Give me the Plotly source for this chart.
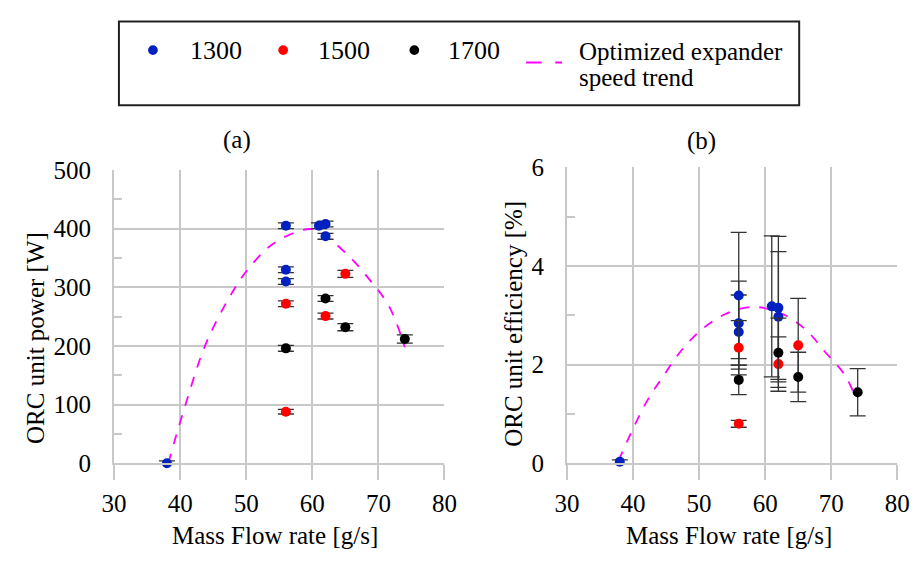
import plotly.graph_objects as go

# ---------------- data ----------------
x_1300 = [38, 56, 56, 56, 61, 62, 62]
power_1300 = [0, 405, 330, 310, 405, 408, 387]
power_err_1300 = [4, 5, 5, 5, 5, 5, 5]
eff_1300 = [0.03, 3.40, 2.84, 2.66, 3.18, 3.15, 2.97]
eff_err_1300 = [0.04, 1.28, 0.85, 0.75, 1.43, 1.45, 1.32]

x_1500 = [56, 56, 62, 65]
power_1500 = [272, 88, 251, 323]
power_err_1500 = [5, 4, 5, 6]
eff_1500 = [2.34, 0.80, 2.01, 2.39]
eff_err_1500 = [0.55, 0.07, 0.55, 0.95]

x_1700 = [56, 62, 65, 74]
power_1700 = [196, 281, 232, 212]
power_err_1700 = [5, 5, 6, 7]
eff_1700 = [1.69, 2.24, 1.75, 1.44]
eff_err_1700 = [0.30, 0.70, 0.50, 0.48]

trend_a_x = [38.2, 38.6, 40.7, 43.9, 47.5, 50.0, 53.9, 58.3, 60.5, 65.2, 68.6, 71.6, 74.0]
trend_a_y = [0, 16, 96, 204, 284, 327, 373, 397, 398, 357, 314, 268, 198]

trend_b_x = [37.8, 40.0, 42.2, 44.4, 47.1, 50.3, 53.9, 58.1, 62.7, 66.2, 69.1, 72.0, 73.8]
trend_b_y = [0.05, 0.70, 1.28, 1.73, 2.25, 2.70, 3.02, 3.17, 3.02, 2.70, 2.25, 1.80, 1.30]

series_names = ["1300", "1500", "1700"]
series_colors = ["#0020c0", "#ff0000", "#000000"]
trend_name = "Optimized expander speed trend"
x_ticks = [30, 40, 50, 60, 70, 80]

# ---------------- styling ----------------
FONT = "Liberation Serif"
GRID = "#c8c8c8"
W, H = 922, 562
MAGENTA = "#ff00ff"
ERRC = "#333333"


def px(x):
    return x / W


def py(y):
    return 1 - y / H


fig = go.Figure()

fig.add_trace(go.Scatter(x=trend_a_x, y=trend_a_y, mode="lines", line=dict(color=MAGENTA, width=1.8, dash="10px,10px", shape="spline"),
                         xaxis="x", yaxis="y", showlegend=False, name=trend_name))
fig.add_trace(go.Scatter(x=trend_b_x, y=trend_b_y, mode="lines", line=dict(color=MAGENTA, width=1.8, dash="10px,10px", shape="spline"),
                         xaxis="x2", yaxis="y2", showlegend=False, name=trend_name))

xs = [x_1300, x_1500, x_1700]
pw = [power_1300, power_1500, power_1700]
pwe = [power_err_1300, power_err_1500, power_err_1700]
ef = [eff_1300, eff_1500, eff_1700]
efe = [eff_err_1300, eff_err_1500, eff_err_1700]

for i in range(3):
    fig.add_trace(go.Scatter(
        x=xs[i], y=pw[i], mode="markers", name=series_names[i],
        marker=dict(color=series_colors[i], size=10, line=dict(width=0)),
        error_y=dict(type="data", array=pwe[i], visible=True, color=ERRC, thickness=1.3, width=8),
        xaxis="x", yaxis="y", showlegend=False, cliponaxis=False))
    fig.add_trace(go.Scatter(
        x=xs[i], y=ef[i], mode="markers", name=series_names[i],
        marker=dict(color=series_colors[i], size=10, line=dict(width=0)),
        error_y=dict(type="data", array=efe[i], visible=True, color=ERRC, thickness=1.3, width=8),
        xaxis="x2", yaxis="y2", showlegend=False, cliponaxis=False))

xaxis_common = dict(
    range=[30, 80], tickvals=x_ticks, showgrid=True, gridcolor=GRID, gridwidth=2,
    showline=True, linecolor=GRID, linewidth=2, ticks="outside", ticklen=15,
    tickcolor=GRID, tickwidth=2, zeroline=False, ticklabelstandoff=2,
    tickfont=dict(family=FONT, size=25, color="black"), fixedrange=True,
)
yaxis_common = dict(
    showgrid=True, gridcolor=GRID, gridwidth=2, showline=True, linecolor=GRID, linewidth=2,
    ticks="", zeroline=False, ticklabelstandoff=16,
    tickfont=dict(family=FONT, size=25, color="black"), fixedrange=True,
)

fig.update_layout(
    width=W, height=H, margin=dict(l=0, r=0, t=0, b=0),
    paper_bgcolor="white", plot_bgcolor="white", showlegend=False,
    xaxis=dict(domain=[px(104), px(444)], anchor="y", **xaxis_common),
    yaxis=dict(domain=[py(473), py(165)], anchor="x", range=[0, 500], dtick=100,
               minor=dict(dtick=50, ticks="inside", ticklen=8, tickcolor=GRID, tickwidth=2, showgrid=False),
               **yaxis_common),
    xaxis2=dict(domain=[px(570), px(910)], anchor="y2", **xaxis_common),
    yaxis2=dict(domain=[py(473), py(162)], anchor="x2", range=[0, 6], dtick=2,
                minor=dict(dtick=1, ticks="inside", ticklen=8, tickcolor=GRID, tickwidth=2, showgrid=False),
                **yaxis_common),
)

ann = []


def text(x, y, s, size=25, xanchor="center", yanchor="middle", angle=0):
    ann.append(dict(x=px(x), y=py(y), xref="paper", yref="paper", text=s, showarrow=False,
                    xanchor=xanchor, yanchor=yanchor, textangle=angle,
                    font=dict(family=FONT, size=size, color="black")))


text(230, 133, "(a)")
text(708, 134, "(b)")
text(270, 549, "Mass Flow rate [g/s]")
text(737, 549, "Mass Flow rate [g/s]")
text(23, 341, "ORC unit power [W]", angle=-90)
text(515, 326, "ORC unit efficiency [%]", angle=-90)

text(180, 39, series_names[0], size=26, xanchor="left")
text(312, 39, series_names[1], size=26, xanchor="left")
text(446, 39, series_names[2], size=26, xanchor="left")
text(580, 40, "Optimized expander", size=25, xanchor="left")
text(580, 68, "speed trend", size=25, xanchor="left")

shapes = [dict(type="rect", xref="paper", yref="paper", x0=px(109), x1=px(809), y0=py(97), y1=py(9),
               line=dict(color="#222222", width=2), fillcolor="rgba(0,0,0,0)")]
for cx, col in zip([144, 278, 413], series_colors):
    shapes.append(dict(type="circle", xref="paper", yref="paper", x0=px(cx - 5), x1=px(cx + 5),
                       y0=py(39 + 5), y1=py(39 - 5), fillcolor=col, line=dict(width=0)))
shapes.append(dict(type="line", xref="paper", yref="paper", x0=px(528), x1=px(544), y0=py(52), y1=py(52),
                   line=dict(color=MAGENTA, width=2)))
shapes.append(dict(type="line", xref="paper", yref="paper", x0=px(558), x1=px(565), y0=py(52), y1=py(52),
                   line=dict(color=MAGENTA, width=2)))

fig.update_layout(annotations=ann, shapes=shapes)
fig.write_html("out.html")
